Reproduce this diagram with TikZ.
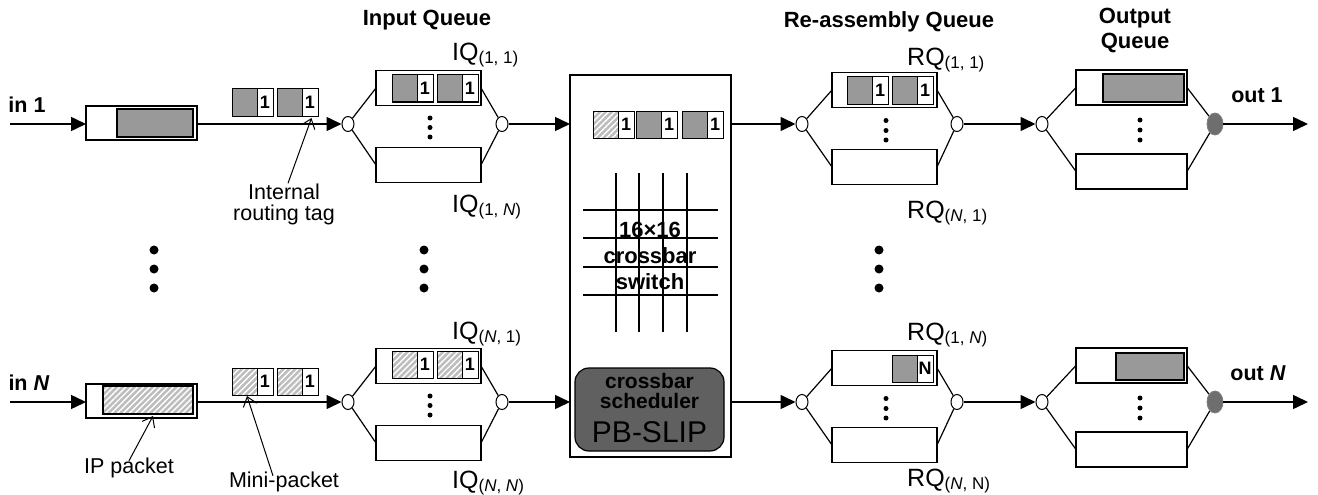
\documentclass[tikz,border=0pt]{standalone}
\usepackage{fontspec}
\setmainfont{Liberation Sans}
\usetikzlibrary{arrows.meta,shapes.geometric,patterns.meta}
\definecolor{pkgray}{HTML}{999999}
\definecolor{hgray}{HTML}{BDBDBD}
\definecolor{schedgray}{HTML}{606060}
\definecolor{outdot}{HTML}{6E6E6E}
\newcommand\qlab[3]{#1{\fontsize{17}{17}\selectfont\raisebox{-3pt}{(#2, #3)}}}
\newcommand\mpk[5]{%
  \node[pkbody,#4,anchor=north west] (#1b) at (#2,#3) {};
  \node[pktag,anchor=north west] (#1t) at (#1b.north east) {#5};}
\begin{document}
\begin{tikzpicture}[x=1pt,y=-1pt,
  every node/.style={font=\fontsize{21.5}{22}\selectfont},
  qbox/.style={draw,line width=1.2pt,minimum width=105pt,minimum height=35pt,inner sep=0pt,outer sep=0pt},
  grayfill/.style={fill=pkgray},
  hatched/.style={preaction={fill=hgray},pattern={Lines[angle=45,distance=4.2pt,line width=1.4pt]},pattern color=white},
  pkbody/.style={draw,line width=1pt,minimum width=25pt,minimum height=27pt,inner sep=0pt,outer sep=0pt},
  pktag/.style={draw,fill=white,line width=1pt,minimum width=16pt,minimum height=27pt,inner sep=0pt,outer sep=0pt,font=\fontsize{18}{18}\selectfont\bfseries},
  inpkt/.style={draw,line width=1.2pt,minimum height=28pt,inner sep=0pt,outer sep=0pt},
  circ/.style={ellipse,draw,fill=white,line width=1pt,minimum width=12pt,minimum height=15pt,inner sep=0pt},
  sdot/.style={circle,fill=black,minimum size=5pt,inner sep=0pt},
  bdot/.style={circle,fill=black,minimum size=9pt,inner sep=0pt},
  mainarrow/.style={-{Triangle[length=15pt,width=14pt]},line width=1.5pt},
  link/.style={line width=1.2pt},
  annot/.style={-{Straight Barb[length=9pt,width=14pt]},line width=1pt},
  qlabel/.style={anchor=base west,font=\fontsize{25}{25}\selectfont,inner sep=0pt},
  head/.style={font=\fontsize{22}{25}\selectfont\bfseries,align=center,inner sep=0pt},
  stext/.style={font=\fontsize{21}{21}\selectfont\bfseries,inner sep=0pt}]
\useasboundingbox (0,0) rectangle (1318,495);

% headers
\node[head] (hiq) at (427,20) {Input Queue};
\node[head] (hrq) at (889,22) {Re-assembly Queue};
\node[head] (hoq) at (1135,30) {Output\\Queue};

% crossbar box
\node[draw,line width=1.2pt,minimum width=161pt,minimum height=382pt,inner sep=0pt,outer sep=0pt] (xbar) at (650.5,266) {};
\foreach \xx in {616,639,663,687}{\draw[line width=1.2pt] (\xx,173) -- (\xx,332);}
\foreach \yy in {210,238,267,295}{\draw[line width=1.2pt] (583,\yy) -- (718,\yy);}
\node[font=\fontsize{22}{26}\selectfont\bfseries,align=center,inner sep=0pt] (xtext) at (650,256) {16×16\\crossbar\\switch};
\node[draw,line width=1.2pt,fill=schedgray,rounded corners=14pt,minimum width=149pt,minimum height=83pt,inner sep=0pt] (sched) at (649.5,409.5) {};
\node[stext] (s1) at (649.5,381) {crossbar};
\node[stext] (s2) at (649.5,401) {scheduler};
\node[font=\fontsize{30}{30}\selectfont,inner sep=0pt] (s3) at (649.5,432) {PB-SLIP};

\foreach \r/\y in {1/124,2/402}{
  % input buffer
  \coordinate (src\r) at (10,\y);
  \node[qbox,minimum width=111pt,minimum height=34pt] (buf\r) at (141.5,\y-1) {};
  \draw[mainarrow] (src\r) -- (buf\r.west |- src\r);
  % input queue
  \node[circ] (iqin\r) at (348,\y) {};
  \draw[mainarrow] (buf\r.east |- iqin\r) -- (iqin\r);
  \node[qbox] (iqt\r) at (428.5,\y-36) {};
  \node[qbox] (iqb\r) at (428.5,\y+41) {};
  \node[circ] (iqout\r) at (502,\y) {};
  \draw[link] (iqin\r) -- (iqt\r.west);
  \draw[link] (iqin\r) -- (iqb\r.west);
  \draw[link] (iqt\r.east) -- (iqout\r);
  \draw[link] (iqb\r.east) -- (iqout\r);
  \node[sdot] (iqd\r a) at (430,\y-6) {};
  \node[sdot] (iqd\r b) at (430,\y+3.5) {};
  \node[sdot] (iqd\r c) at (430,\y+13) {};
  \draw[mainarrow] (iqout\r) -- (xbar.west |- iqout\r);
  % re-assembly queue
  \node[circ] (rqin\r) at (802,\y) {};
  \draw[mainarrow] (xbar.east |- rqin\r) -- (rqin\r);
  \node[qbox] (rqt\r) at (884.5,\y-34) {};
  \node[qbox] (rqb\r) at (884.5,\y+43) {};
  \node[circ] (rqout\r) at (957,\y) {};
  \draw[link] (rqin\r) -- (rqt\r.west);
  \draw[link] (rqin\r) -- (rqb\r.west);
  \draw[link] (rqt\r.east) -- (rqout\r);
  \draw[link] (rqb\r.east) -- (rqout\r);
  \node[sdot] (rqd\r a) at (886,\y-3.5) {};
  \node[sdot] (rqd\r b) at (886,\y+6.5) {};
  \node[sdot] (rqd\r c) at (886,\y+16) {};
  % output queue
  \node[circ] (oqin\r) at (1042,\y) {};
  \draw[mainarrow] (rqout\r) -- (oqin\r);
  \node[qbox,minimum width=111pt] (oqt\r) at (1131.5,\y-36.5) {};
  \node[qbox,minimum width=111pt] (oqb\r) at (1131.5,\y+47.5) {};
  \node[ellipse,draw=gray,fill=outdot,line width=0.8pt,minimum width=16pt,minimum height=22pt,inner sep=0pt] (oqout\r) at (1215,\y) {};
  \draw[link] (oqin\r) -- (oqt\r.west);
  \draw[link] (oqin\r) -- (oqb\r.west);
  \draw[link] (oqt\r.east) -- (oqout\r);
  \draw[link] (oqb\r.east) -- (oqout\r);
  \node[sdot] (oqd\r a) at (1140,\y-4) {};
  \node[sdot] (oqd\r b) at (1140,\y+6) {};
  \node[sdot] (oqd\r c) at (1140,\y+16) {};
  \coordinate (dst\r) at (1308,\y);
  \draw[mainarrow] (oqout\r) -- (dst\r);
}

% port labels
\node[font=\fontsize{21.5}{22}\selectfont\bfseries] (in1) at (27,105) {in 1};
\node[font=\fontsize{21.5}{22}\selectfont\bfseries] (inN) at (29,383) {in \textit{N}};
\node[font=\fontsize{21.5}{22}\selectfont\bfseries] (out1) at (1257,95) {out 1};
\node[font=\fontsize{21.5}{22}\selectfont\bfseries] (outN) at (1258,373) {out \textit{N}};

% queue labels
\node[qlabel] (liq11) at (452,61) {\qlab{IQ}{1}{1}};
\node[qlabel] (liq1N) at (452,212) {\qlab{IQ}{1}{\textit{N}}};
\node[qlabel] (liqN1) at (452,339) {\qlab{IQ}{\textit{N}}{1}};
\node[qlabel] (liqNN) at (452,488) {\qlab{IQ}{\textit{N}}{\textit{N}}};
\node[qlabel] (lrq11) at (907,66) {\qlab{RQ}{1}{1}};
\node[qlabel] (lrqN1) at (907,218) {\qlab{RQ}{\textit{N}}{1}};
\node[qlabel] (lrq1N) at (907,340) {\qlab{RQ}{1}{\textit{N}}};
\node[qlabel] (lrqNN) at (907,486) {\qlab{RQ}{\textit{N}}{N}};

% IP packets inside input buffers
\node[inpkt,fill=pkgray,minimum width=76pt,anchor=north west] (ipk1) at (117,109) {};
\node[inpkt,hatched,minimum width=90pt,anchor=north west] (ipk2) at (103,386) {};
% packets in output queues
\node[inpkt,fill=pkgray,minimum width=81pt,anchor=north west] (opk1) at (1103,74) {};
\node[inpkt,fill=pkgray,minimum width=68pt,minimum height=27pt,anchor=north west] (opk2) at (1116,353) {};

% mini-packets on the lines
\mpk{m11}{232}{89}{grayfill}{1}
\mpk{m12}{277}{89}{grayfill}{1}
\mpk{m21}{232}{368}{hatched}{1}
\mpk{m22}{277}{368}{hatched}{1}
% mini-packets in input queues
\mpk{q11}{392}{75}{grayfill}{1}
\mpk{q12}{437}{75}{grayfill}{1}
\mpk{q21}{392}{351}{hatched}{1}
\mpk{q22}{437}{351}{hatched}{1}
% mini-packets in crossbar
\mpk{x1}{593}{111}{hatched}{1}
\mpk{x2}{636}{111}{grayfill}{1}
\mpk{x3}{682}{111}{grayfill}{1}
% mini-packets in re-assembly queues
\mpk{r11}{847}{77}{grayfill}{1}
\mpk{r12}{892}{77}{grayfill}{1}
\mpk{r21}{892}{355}{grayfill}{N}

% big dots between rows
\foreach \xx/\nm in {154/a,424/b,879/c}{
  \node[bdot] (bd\nm1) at (\xx,250) {};
  \node[bdot] (bd\nm2) at (\xx,269) {};
  \node[bdot] (bd\nm3) at (\xx,288) {};
}

% annotations
\node[align=center,font=\fontsize{21.5}{21}\selectfont,inner sep=0pt] (rtag) at (284,204) {Internal\\routing tag};
\draw[annot] ([xshift=4pt]rtag.north) -- ([xshift=1.5pt,yshift=-2pt]m12t.south);
\node[inner sep=0pt] (iplbl) at (129,468) {IP packet};
\draw[annot] ([yshift=-3pt]iplbl.north) -- ([xshift=5pt,yshift=-2pt]ipk2.south);
\node[inner sep=0pt] (mplbl) at (284,482) {Mini-packet};
\draw[annot] ([xshift=-11pt,yshift=-4pt]mplbl.north) -- ([xshift=2.5pt,yshift=-1pt]m21b.south);
\end{tikzpicture}
\end{document}
